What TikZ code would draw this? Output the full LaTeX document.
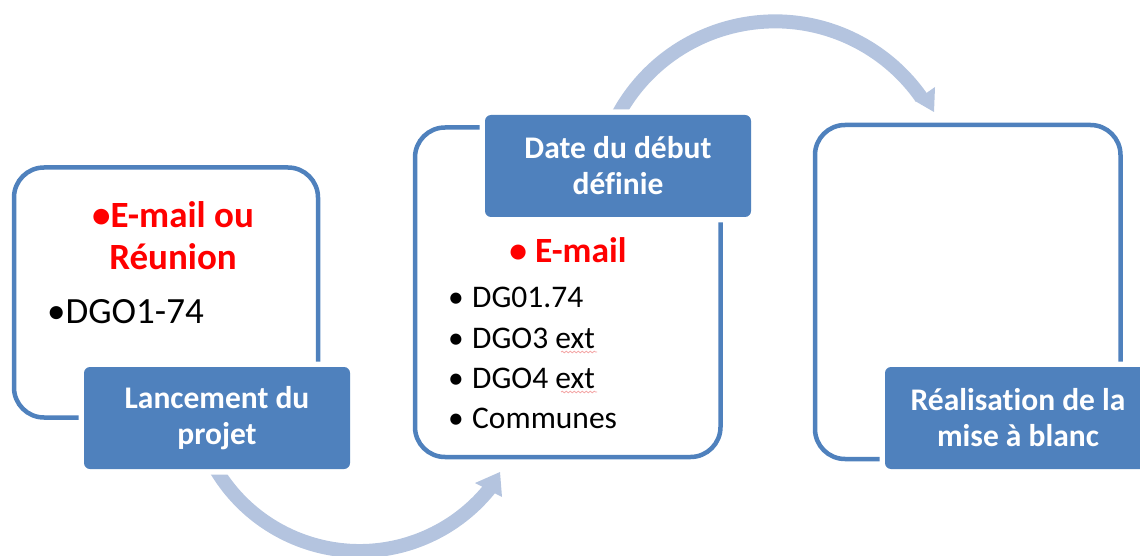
\documentclass[tikz,border=0pt]{standalone}
\usepackage{fontspec}
\setmainfont{Carlito}[Ligatures=NoCommon]
\usetikzlibrary{decorations.pathmorphing,calc}
\definecolor{boxblue}{HTML}{4F81BD}
\definecolor{arrowblue}{HTML}{B4C4DF}
\definecolor{redtext}{HTML}{FF0000}
\definecolor{squiggle}{HTML}{F4A6A6}
\begin{document}
\begin{tikzpicture}[x=1pt,y=1pt,
  outerbox/.style={draw=boxblue, line width=4.5pt, rounded corners=30pt, fill=white, inner sep=0pt},
  labelbox/.style={fill=boxblue, rounded corners=6pt, preaction={draw=white, line width=11pt},
    minimum width=266pt, minimum height=102pt, inner sep=0pt, text=white,
    font=\bfseries\fontsize{31.5}{36}\selectfont, align=center},
  redbig/.style={text=redtext, font=\bfseries\fontsize{37}{42}\selectfont, inner sep=0pt},
  blackbig/.style={text=black, font=\fontsize{37}{42}\selectfont, inner sep=0pt},
  item/.style={text=black, font=\fontsize{31.5}{40}\selectfont, inner sep=0pt, anchor=base west},
  bul/.style={text=black, font=\fontsize{31.5}{40}\selectfont, inner sep=0pt, anchor=base},
  arrowband/.style={draw=arrowblue, line width=14pt},
  arrowhead/.style={fill=arrowblue}
]
\useasboundingbox (0,0) rectangle (1140,555);
\clip (0,0) rectangle (1140,555);

% curved arrows (behind everything)
\coordinate (c1) at (359.5,171);
\coordinate (a1s) at ($(c1)+(205:167)$);
\draw[arrowband] (a1s) arc[start angle=205, end angle=322, radius=167];
\coordinate (h1a) at (475,72);
\coordinate (h1b) at (500,83);
\coordinate (h1c) at (502,58);
\fill[arrowhead] (h1a) -- (h1b) -- (h1c) -- cycle;

\coordinate (c2) at (775,355);
\coordinate (a2s) at ($(c2)+(152:178.6)$);
\draw[arrowband] (a2s) arc[start angle=152, end angle=35, radius=178.6];
\coordinate (h2a) at (915,454);
\coordinate (h2b) at (935,468);
\coordinate (h2c) at (934,443);
\fill[arrowhead] (h2a) -- (h2b) -- (h2c) -- cycle;

% outer boxes
\node[outerbox, minimum width=304pt, minimum height=250pt] (box1) at (166,262.5) {};
\node[outerbox, minimum width=305.5pt, minimum height=329.5pt] (box2) at (567.75,262.75) {};
\node[outerbox, minimum width=305.5pt, minimum height=334pt] (box3) at (967.75,263) {};

% label boxes
\node[labelbox] (lab1) at (217,137) {Lancement du\\projet};
\node[labelbox] (lab2) at (618,389) {Date du début\\définie};
\node[labelbox] (lab3) at (1018,137) {Réalisation de la\\mise à blanc};

% box 1 contents
\node[redbig, anchor=base] (t1a) at (173,327) {•E-mail ou};
\node[redbig, anchor=base] (t1b) at (173,285) {Réunion};
\node[blackbig, anchor=base west] (t1c) at (47,232) {•DGO1-74};

% box 2 contents
\node[redbig, font=\bfseries\fontsize{35.5}{42}\selectfont, anchor=base] (t2a) at (568,293) {• E-mail};
\node[bul] (b1) at (456,248) {•};
\node[item] (i1) at (472,248) {DG01.74};
\node[bul] (b2) at (456,207) {•};
\node[item] (i2) at (472,207) {DGO3 ext};
\node[bul] (b3) at (456,167) {•};
\node[item] (i3) at (472,167) {DGO4 ext};
\node[bul] (b4) at (456,127) {•};
\node[item] (i4) at (472,127) {Communes};

% spell-check squiggles
\draw[squiggle, line width=0.8pt, decorate, decoration={snake, amplitude=0.8pt, segment length=4pt}]
  (561,203) -- (597,203);
\draw[squiggle, line width=0.8pt, decorate, decoration={snake, amplitude=0.8pt, segment length=4pt}]
  (561,163) -- (597,163);
\end{tikzpicture}
\end{document}
